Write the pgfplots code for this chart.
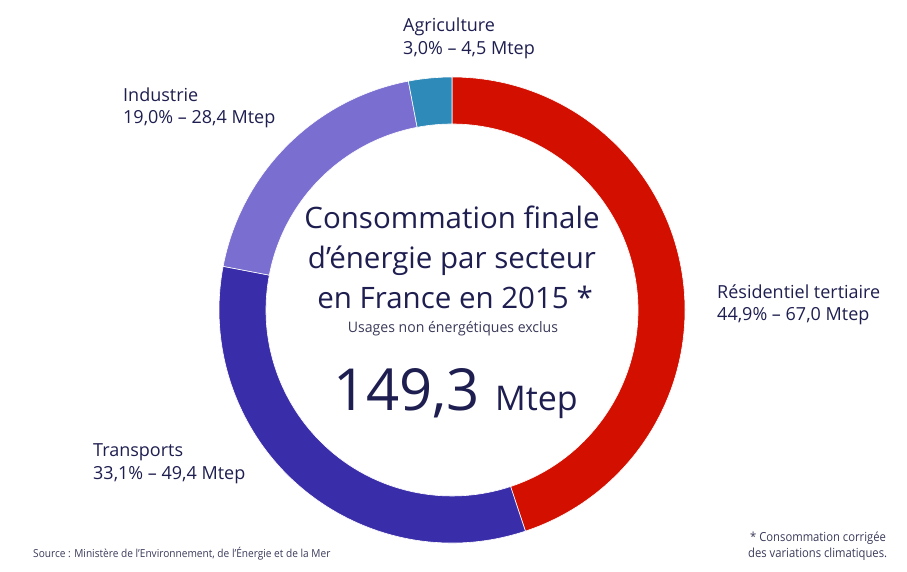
\documentclass[border=0pt]{standalone}
\usepackage{pgfplots}
\pgfplotsset{compat=1.18}
\usepackage{pgfplotstable}
\usepackage{fontspec}
\setmainfont{Open Sans}
\definecolor{cRes}{HTML}{D30F00}
\definecolor{cTra}{HTML}{3A2DAA}
\definecolor{cInd}{HTML}{7A6FD0}
\definecolor{cAgr}{HTML}{2E8AB8}
\definecolor{txt}{HTML}{1E1E50}
\definecolor{src}{HTML}{3A3A5A}
\pgfplotstableread{
sector pct mtep
Res 44.9 67.0
Tra 33.1 49.4
Ind 19.0 28.4
Agr 3.0 4.5
}\datatable
\pgfplotstablegetelem{0}{pct}\of\datatable \let\pA\pgfplotsretval
\pgfplotstablegetelem{1}{pct}\of\datatable \let\pB\pgfplotsretval
\pgfplotstablegetelem{2}{pct}\of\datatable \let\pC\pgfplotsretval
\pgfplotstablegetelem{3}{pct}\of\datatable \let\pD\pgfplotsretval
\pgfmathsetmacro\aO{90}
\pgfmathsetmacro\aA{\aO-3.6*\pA}
\pgfmathsetmacro\aB{\aA-3.6*\pB}
\pgfmathsetmacro\aC{\aB-3.6*\pC}
\pgfmathsetmacro\aD{\aC-3.6*\pD}
\def\cx{452}\def\cy{252}\def\Ro{233}\def\Ri{186}
\newcommand\seg[3]{%
  \fill[#1, draw=white, line width=0.6pt] (axis cs:\cx,\cy) ++(#2:\Ro) arc[start angle=#2, end angle=#3, radius=\Ro]
    -- ([shift={(#3:\Ri)}]axis cs:\cx,\cy) arc[start angle=#3, end angle=#2, radius=\Ri] -- cycle;}
\begin{document}%
\begin{tikzpicture}
\begin{axis}[x=1pt, y=1pt, xmin=0, xmax=907, ymin=0, ymax=562,
  hide axis, clip=false, scale only axis]
\addplot[draw=none, forget plot] coordinates {(0,0) (907,562)};
\seg{cRes}{\aO}{\aA}
\seg{cTra}{\aA}{\aB}
\seg{cInd}{\aB}{\aC}
\seg{cAgr}{\aC}{\aD}
% centre
\node[anchor=base, text=txt, font=\fontsize{29.5}{35}\selectfont] at (axis cs:452,333) {Consommation finale};
\node[anchor=base, text=txt, font=\fontsize{29.5}{35}\selectfont] at (axis cs:452,293) {d’énergie par secteur};
\node[anchor=base, text=txt, font=\fontsize{29.5}{35}\selectfont] at (axis cs:455,253) {en France en 2015 *};
\node[anchor=base, text=src, font=\fontsize{14.5}{16}\selectfont] at (axis cs:453,229) {\scalebox{0.97}[1]{Usages non énergétiques exclus}};
\node[anchor=base west, inner sep=0pt, text=txt, font=\fontsize{58}{60}\selectfont] at (axis cs:333,151) {149,3};
\node[anchor=base west, inner sep=0pt, text=txt, font=\fontsize{34}{36}\selectfont] at (axis cs:495,151) {Mtep};
% labels
\node[anchor=base west, inner sep=0pt, text=txt, font=\fontsize{18}{20}\selectfont] at (axis cs:403,530) {Agriculture};
\node[anchor=base west, inner sep=0pt, text=txt, font=\fontsize{18}{20}\selectfont] at (axis cs:403,507) {3,0\% – 4,5 Mtep};
\node[anchor=base west, inner sep=0pt, text=txt, font=\fontsize{18}{20}\selectfont] at (axis cs:123,460) {Industrie};
\node[anchor=base west, inner sep=0pt, text=txt, font=\fontsize{18}{20}\selectfont] at (axis cs:123,438) {19,0\% – 28,4 Mtep};
\node[anchor=base west, inner sep=0pt, text=txt, font=\fontsize{18}{20}\selectfont] at (axis cs:717,263) {Résidentiel tertiaire};
\node[anchor=base west, inner sep=0pt, text=txt, font=\fontsize{18}{20}\selectfont] at (axis cs:717,241) {44,9\% – 67,0 Mtep};
\node[anchor=base west, inner sep=0pt, text=txt, font=\fontsize{18}{20}\selectfont] at (axis cs:93,105) {Transports};
\node[anchor=base west, inner sep=0pt, text=txt, font=\fontsize{18}{20}\selectfont] at (axis cs:93,82) {33,1\% – 49,4 Mtep};
% notes
\node[anchor=base west, inner sep=0pt, text=src, font=\fontsize{11}{12}\selectfont] at (axis cs:33,4) {\scalebox{0.92}[1]{Source : Ministère de l’Environnement, de l’Énergie et de la Mer}};
\node[anchor=base west, inner sep=0pt, text=src, font=\fontsize{12.5}{14}\selectfont] at (axis cs:750,20) {\scalebox{0.9}[1]{* Consommation corrigée}};
\node[anchor=base west, inner sep=0pt, text=src, font=\fontsize{12.5}{14}\selectfont] at (axis cs:748,4) {\scalebox{0.9}[1]{des variations climatiques.}};
\end{axis}
\end{tikzpicture}%
\end{document}
